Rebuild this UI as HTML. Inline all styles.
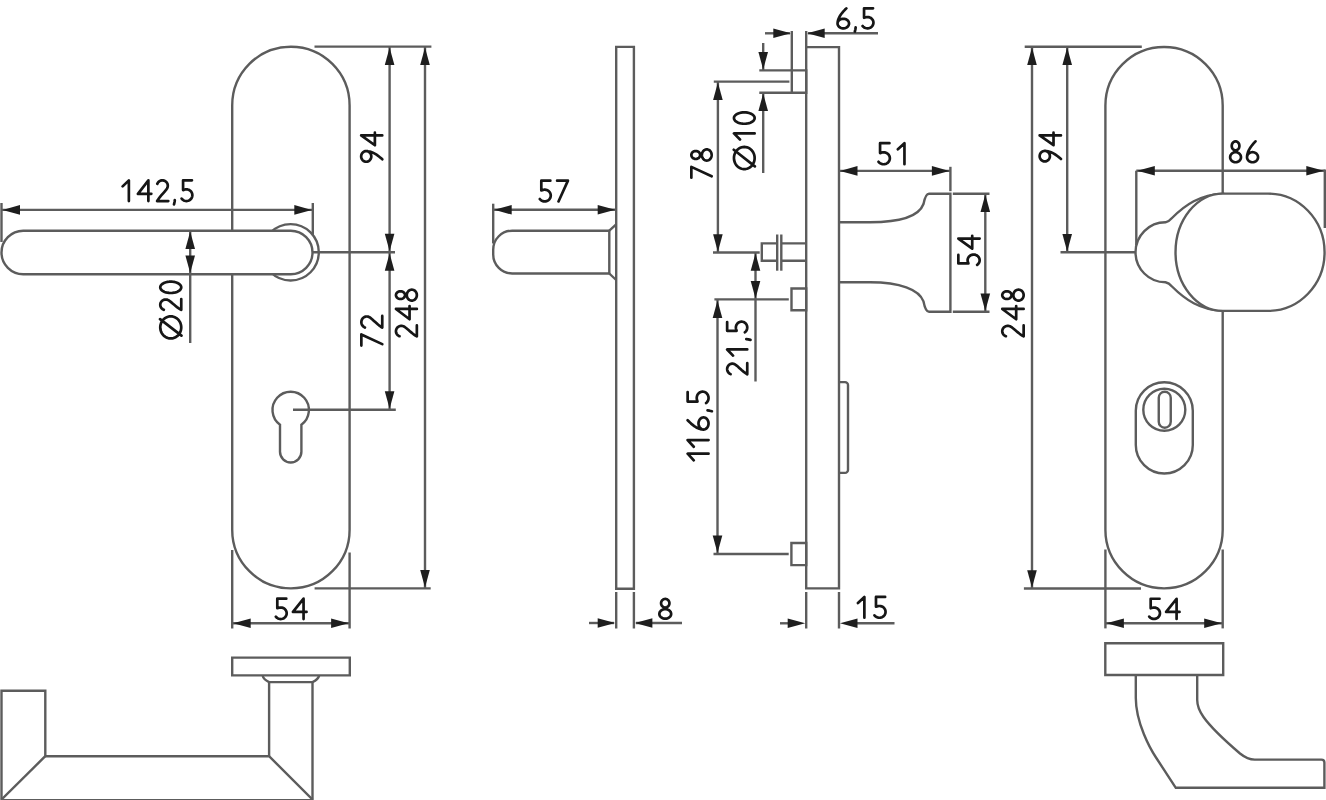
<!DOCTYPE html>
<html><head><meta charset="utf-8"><style>
html,body{margin:0;padding:0;background:#fff;width:1326px;height:800px;overflow:hidden}
svg{display:block}
svg text{font-family:"Liberation Sans",sans-serif;fill:#111;stroke:none}
.g{fill:none;stroke:#5c5c5c;stroke-width:2.40;stroke-linejoin:miter}
.a{fill:#1e1e1e;stroke:none}
.t{fill:none;stroke:#161616;stroke-width:2.70;stroke-linecap:round;stroke-linejoin:round}
</style></head><body>
<svg width="1326" height="800" viewBox="0 0 1326 800">
<g class="g">
<line x1="1.50" y1="203.00" x2="1.50" y2="242.00"/>
<line x1="312.80" y1="203.00" x2="312.80" y2="240.00"/>
<line x1="1.50" y1="209.90" x2="312.80" y2="209.90"/>
<polygon class="a" points="2.50,209.90 20.00,205.10 20.00,214.70"/>
<polygon class="a" points="311.80,209.90 294.30,205.10 294.30,214.70"/>
<path d="M232.2,105.4A58.7,58.7 0 0 1 349.6,105.4L349.6,529.7A58.7,58.7 0 0 1 232.2,529.7Z"/>
<path d="M262.40,252.30A28.2,28.2 0 1 1 318.80,252.30A28.2,28.2 0 1 1 262.40,252.30Z" fill="#fff"/>
<path d="M23.2,230.8L290.8,230.8A21.7,21.7 0 0 1 290.8,274.2L23.2,274.2A21.7,21.7 0 0 1 23.2,230.8Z" fill="#fff"/>
<path d="M280,424.7A18.2,18.2 0 1 1 301.4,424.7L301.4,451.8A10.7,10.7 0 0 1 280,451.8Z"/>
<line x1="312.80" y1="252.30" x2="395.00" y2="252.30"/>
<line x1="293.00" y1="409.80" x2="395.80" y2="409.80"/>
<line x1="314.50" y1="46.60" x2="431.40" y2="46.60"/>
<line x1="314.60" y1="588.40" x2="430.70" y2="588.40"/>
<line x1="389.60" y1="46.60" x2="389.60" y2="409.80"/>
<polygon class="a" points="389.60,47.60 384.80,65.10 394.40,65.10"/>
<polygon class="a" points="389.60,251.30 384.80,233.80 394.40,233.80"/>
<polygon class="a" points="389.60,253.30 384.80,270.80 394.40,270.80"/>
<polygon class="a" points="389.60,408.80 384.80,391.30 394.40,391.30"/>
<line x1="425.00" y1="46.60" x2="425.00" y2="588.40"/>
<polygon class="a" points="425.00,47.60 420.20,65.10 429.80,65.10"/>
<polygon class="a" points="425.00,587.40 420.20,569.90 429.80,569.90"/>
<line x1="190.20" y1="230.30" x2="190.20" y2="343.00"/>
<polygon class="a" points="190.20,231.50 185.40,249.00 195.00,249.00"/>
<polygon class="a" points="190.20,273.10 185.40,255.60 195.00,255.60"/>
<line x1="232.20" y1="550.00" x2="232.20" y2="628.50"/>
<line x1="349.60" y1="552.50" x2="349.60" y2="628.50"/>
<line x1="232.20" y1="623.20" x2="349.60" y2="623.20"/>
<polygon class="a" points="233.20,623.20 250.70,618.40 250.70,628.00"/>
<polygon class="a" points="348.60,623.20 331.10,618.40 331.10,628.00"/>
<path d="M616.20,46.90H633.90V588.70H616.20Z"/>
<path d="M609.3,230.7L512.2,230.7A19,19 0 0 0 493.2,249.7L493.2,254.5A19,19 0 0 0 512.2,273.5L609.3,273.5Z"/>
<path d="M609.3,230.7L616.2,224.3"/>
<path d="M609.3,273.5L616.2,280"/>
<line x1="493.20" y1="203.70" x2="493.20" y2="243.50"/>
<line x1="493.20" y1="209.80" x2="616.20" y2="209.80"/>
<polygon class="a" points="494.20,209.80 511.70,205.00 511.70,214.60"/>
<polygon class="a" points="615.20,209.80 597.70,205.00 597.70,214.60"/>
<line x1="616.20" y1="592.00" x2="616.20" y2="628.50"/>
<line x1="633.90" y1="592.00" x2="633.90" y2="628.50"/>
<line x1="589.00" y1="623.00" x2="614.00" y2="623.00"/>
<polygon class="a" points="615.20,623.00 597.70,618.20 597.70,627.80"/>
<line x1="636.00" y1="623.00" x2="682.00" y2="623.00"/>
<polygon class="a" points="634.90,623.00 652.40,618.20 652.40,627.80"/>
<path d="M806.20,47.10H839.00V588.40H806.20Z"/>
<path d="M791.80,70.40H806.20V92.80H791.80Z"/>
<line x1="791.80" y1="31.00" x2="791.80" y2="70.40"/>
<line x1="806.20" y1="31.00" x2="806.20" y2="47.10"/>
<line x1="765.00" y1="33.30" x2="790.00" y2="33.30"/>
<polygon class="a" points="790.80,33.30 773.30,28.50 773.30,38.10"/>
<line x1="808.00" y1="33.30" x2="878.00" y2="33.30"/>
<polygon class="a" points="807.20,33.30 824.70,28.50 824.70,38.10"/>
<line x1="759.30" y1="70.40" x2="791.80" y2="70.40"/>
<line x1="759.30" y1="92.80" x2="791.80" y2="92.80"/>
<line x1="763.20" y1="43.00" x2="763.20" y2="70.40"/>
<polygon class="a" points="763.20,69.60 758.40,52.10 768.00,52.10"/>
<line x1="763.20" y1="92.80" x2="763.20" y2="173.00"/>
<polygon class="a" points="763.20,93.60 758.40,111.10 768.00,111.10"/>
<line x1="713.80" y1="81.60" x2="789.40" y2="81.60"/>
<line x1="713.00" y1="252.50" x2="759.70" y2="252.50"/>
<line x1="717.90" y1="81.60" x2="717.90" y2="252.50"/>
<polygon class="a" points="717.90,82.40 713.10,99.90 722.70,99.90"/>
<polygon class="a" points="717.90,251.70 713.10,234.20 722.70,234.20"/>
<path d="M777.2,243.4H761.8V260.8H777.2M781.3,243.4H806.2M781.3,260.8H806.2"/>
<line x1="777.20" y1="234.50" x2="777.20" y2="270.70"/>
<line x1="781.30" y1="234.50" x2="781.30" y2="270.70"/>
<line x1="755.50" y1="252.50" x2="755.50" y2="381.50"/>
<polygon class="a" points="755.50,253.30 750.70,270.80 760.30,270.80"/>
<polygon class="a" points="755.50,298.60 750.70,281.10 760.30,281.10"/>
<path d="M791.50,288.50H806.20V310.20H791.50Z"/>
<line x1="714.40" y1="299.40" x2="788.80" y2="299.40"/>
<path d="M791.40,543.00H806.20V565.10H791.40Z"/>
<line x1="713.50" y1="554.00" x2="788.70" y2="554.00"/>
<line x1="717.50" y1="299.40" x2="717.50" y2="554.00"/>
<polygon class="a" points="717.50,300.40 712.70,317.90 722.30,317.90"/>
<polygon class="a" points="717.50,553.00 712.70,535.50 722.30,535.50"/>
<path d="M839,382.1H845A3,3 0 0 1 848,385.1V469.9A3,3 0 0 1 845,472.9H839"/>
<path d="M839,222.2L870,222.2C900,222.2 919,216 923.5,204Q925.5,193.7 929,193.7L950.4,193.7L950.4,311.7L929,311.7Q925.5,311.7 923.5,301.4C919,289.4 900,282.3 870,282.3L839,282.3"/>
<line x1="950.40" y1="166.80" x2="950.40" y2="191.20"/>
<line x1="839.00" y1="170.90" x2="950.40" y2="170.90"/>
<polygon class="a" points="840.00,170.90 857.50,166.10 857.50,175.70"/>
<polygon class="a" points="949.40,170.90 931.90,166.10 931.90,175.70"/>
<line x1="952.80" y1="193.70" x2="989.50" y2="193.70"/>
<line x1="952.80" y1="311.70" x2="989.50" y2="311.70"/>
<line x1="985.30" y1="193.70" x2="985.30" y2="311.70"/>
<polygon class="a" points="985.30,194.50 980.50,212.00 990.10,212.00"/>
<polygon class="a" points="985.30,310.90 980.50,293.40 990.10,293.40"/>
<line x1="806.20" y1="592.00" x2="806.20" y2="628.50"/>
<line x1="839.00" y1="592.00" x2="839.00" y2="628.50"/>
<line x1="780.00" y1="623.30" x2="790.00" y2="623.30"/>
<polygon class="a" points="805.20,623.30 787.70,618.50 787.70,628.10"/>
<line x1="856.00" y1="623.30" x2="894.50" y2="623.30"/>
<polygon class="a" points="840.00,623.30 857.50,618.50 857.50,628.10"/>
<line x1="1024.70" y1="46.80" x2="1141.80" y2="46.80"/>
<line x1="1023.90" y1="588.50" x2="1141.00" y2="588.50"/>
<line x1="1032.00" y1="46.80" x2="1032.00" y2="588.50"/>
<polygon class="a" points="1032.00,47.60 1027.20,65.10 1036.80,65.10"/>
<polygon class="a" points="1032.00,587.70 1027.20,570.20 1036.80,570.20"/>
<line x1="1067.20" y1="46.80" x2="1067.20" y2="252.20"/>
<polygon class="a" points="1067.20,47.60 1062.40,65.10 1072.00,65.10"/>
<polygon class="a" points="1067.20,251.40 1062.40,233.90 1072.00,233.90"/>
<line x1="1060.50" y1="252.20" x2="1136.00" y2="252.20"/>
<line x1="1136.30" y1="170.70" x2="1136.30" y2="245.00"/>
<line x1="1324.80" y1="169.50" x2="1324.80" y2="228.00"/>
<line x1="1136.30" y1="170.70" x2="1324.80" y2="170.70"/>
<polygon class="a" points="1137.30,170.70 1154.80,165.90 1154.80,175.50"/>
<polygon class="a" points="1323.80,170.70 1306.30,165.90 1306.30,175.50"/>
<path d="M1105.4,105.5A58.65,58.65 0 0 1 1222.7,105.5L1222.7,529.8A58.65,58.65 0 0 1 1105.4,529.8Z"/>
<path d="M1223,193.6C1200,194.5 1185,205 1172,218Q1169,221.5 1165.5,222.3A30,30 0 0 0 1165.5,282.3Q1169,283 1172,286.5C1185,299.5 1200,310 1223,310.9Z" fill="#fff"/>
<path d="M1223,193.6L1268,193.6A56.6,58.65 0 0 1 1268,310.9L1223,310.9A47.5,58.65 0 0 1 1223,193.6Z" fill="#fff"/>
<path d="M1135.8,410.8A28.5,28.5 0 0 1 1192.8,410.8L1192.8,445A28.5,28.5 0 0 1 1135.8,445Z"/>
<path d="M1143.3,409.75A21,21 0 1 1 1185.3,409.75A21,21 0 1 1 1143.3,409.75Z"/>
<path d="M1158.75,397.75A6,6 0 0 1 1170.75,397.75L1170.75,421.75A6,6 0 0 1 1158.75,421.75Z"/>
<line x1="1105.40" y1="549.50" x2="1105.40" y2="628.40"/>
<line x1="1222.70" y1="549.50" x2="1222.70" y2="628.40"/>
<line x1="1105.40" y1="623.20" x2="1222.70" y2="623.20"/>
<polygon class="a" points="1106.40,623.20 1123.90,618.40 1123.90,628.00"/>
<polygon class="a" points="1221.70,623.20 1204.20,618.40 1204.20,628.00"/>
<path d="M232.20,657.60H349.80V675.40H232.20Z"/>
<path d="M262.6,675.4Q263.4,679.6 269.1,682.1L312.5,682.1Q318.2,679.6 319.2,675.4"/>
<line x1="269.10" y1="682.10" x2="269.10" y2="756.20"/>
<line x1="312.50" y1="682.10" x2="312.50" y2="800.00"/>
<path d="M1.5,800V690.8H45.3V756.2H269.1L312.5,799.5"/>
<line x1="45.30" y1="756.20" x2="1.50" y2="799.50"/>
<line x1="1.50" y1="800.30" x2="312.60" y2="800.30"/>
<path d="M1105.30,643.20H1223.20V675.00H1105.30Z"/>
<path d="M1135.8,675L1135.8,698C1135.8,723 1150.5,749.2 1156,757.5L1175.8,787.8L1324.4,787.8L1324.4,762.6Q1324.4,759.6 1321.4,759.6L1254.7,759.6C1249,759.6 1245,757.5 1240,753.5C1226,741.5 1212,729 1203.5,717Q1197.2,708 1197.2,700L1197.2,675"/>
</g>
<g class="t">
<path d="M122.65,186.40L128.86,180.35L128.86,201.05M148.38,201.05L148.38,180.35L137.93,193.82L151.34,193.82M157.29,183.88L157.62,183.15L158.07,182.47L158.61,181.86L159.24,181.35L159.93,180.93L160.69,180.62L161.48,180.42L162.30,180.35L163.11,180.40L163.91,180.57L164.67,180.85L165.38,181.25L166.03,181.75L166.59,182.33L167.06,183.00L167.42,183.72L167.66,184.50L167.79,185.29L167.79,186.10L167.67,186.90L167.43,187.68L167.08,188.41L166.45,189.35L165.62,190.42L164.64,191.57L163.55,192.81L162.39,194.12L161.22,195.47L160.06,196.85L158.97,198.26L157.99,199.66L157.16,201.05L168.30,201.05M174.80,200.07L174.56,202.03L174.01,204.37M191.96,180.35L183.08,180.35L183.08,190.11L184.01,189.85L184.87,189.54L185.77,189.37L186.69,189.34L187.60,189.45L188.48,189.70L189.32,190.08L190.08,190.58L190.76,191.19L191.33,191.91L191.79,192.70L192.11,193.55L192.30,194.44L192.35,195.35L192.25,196.25L192.02,197.13L191.65,197.96L191.15,198.73L190.54,199.41L189.83,199.99L189.04,200.45L188.19,200.79L187.29,200.99L186.38,201.05L185.46,200.97L184.57,200.75L183.73,200.40L182.94,199.92L182.25,199.33L181.65,198.64M382.25,159.25L381.22,158.35L380.14,157.43L378.99,156.50L377.79,155.59L376.52,154.71L375.21,153.88L373.84,153.13L372.42,152.47L370.94,151.91L369.42,151.48L367.85,151.21L366.23,151.09L367.11,151.17L367.96,151.41L368.76,151.81L369.49,152.34L370.11,153.00L370.62,153.76L371.00,154.60L371.22,155.50L371.30,156.42L371.22,157.35L371.00,158.24L370.62,159.09L370.11,159.85L369.49,160.50L368.76,161.04L367.96,161.43L367.11,161.67L366.23,161.75L365.34,161.67L364.49,161.43L363.69,161.04L362.96,160.50L362.34,159.85L361.83,159.09L361.46,158.24L361.23,157.35L361.15,156.42L361.23,155.50L361.46,154.60L361.83,153.76L362.34,153.00L362.96,152.34L363.69,151.81L364.49,151.41L365.34,151.17L366.23,151.09M382.25,135.43L361.15,135.43L374.88,145.25L374.88,132.65M361.35,345.55L361.35,334.41L382.25,344.11M364.92,327.47L364.17,327.12L363.49,326.65L362.88,326.09L362.36,325.43L361.93,324.70L361.62,323.91L361.43,323.08L361.35,322.23L361.40,321.38L361.57,320.54L361.86,319.74L362.26,319.00L362.76,318.32L363.35,317.74L364.02,317.25L364.76,316.87L365.54,316.62L366.34,316.48L367.16,316.48L367.97,316.61L368.75,316.86L369.48,317.23L370.44,317.89L371.51,318.75L372.68,319.78L373.93,320.92L375.25,322.12L376.62,323.36L378.01,324.57L379.43,325.71L380.85,326.74L382.25,327.60L382.25,315.95M399.52,336.22L398.77,335.89L398.09,335.45L397.48,334.92L396.96,334.30L396.53,333.61L396.22,332.87L396.03,332.09L395.95,331.29L396.00,330.49L396.17,329.70L396.46,328.95L396.86,328.25L397.36,327.61L397.95,327.06L398.62,326.60L399.36,326.25L400.14,326.01L400.94,325.88L401.76,325.88L402.57,326.00L403.35,326.23L404.08,326.58L405.04,327.20L406.11,328.02L407.28,328.98L408.53,330.05L409.85,331.19L411.22,332.35L412.61,333.49L414.03,334.56L415.45,335.53L416.85,336.35L416.85,325.38M416.85,308.97L395.95,308.97L409.55,319.26L409.55,306.06M405.02,295.14L404.93,295.89L404.67,296.62L404.26,297.29L403.69,297.88L403.00,298.36L402.22,298.72L401.37,298.94L400.48,299.02L399.60,298.94L398.75,298.72L397.97,298.36L397.28,297.88L396.71,297.29L396.30,296.62L396.04,295.89L395.95,295.14L396.04,294.38L396.30,293.65L396.71,292.98L397.28,292.39L397.97,291.91L398.75,291.55L399.60,291.33L400.48,291.25L401.37,291.33L402.22,291.55L403.00,291.91L403.69,292.39L404.26,292.98L404.67,293.65L404.93,294.38L405.02,295.14M406.79,295.14L406.87,294.18L407.10,293.26L407.47,292.39L407.97,291.61L408.59,290.93L409.31,290.38L410.10,289.98L410.95,289.73L411.82,289.65L412.70,289.73L413.54,289.98L414.34,290.38L415.05,290.93L415.67,291.61L416.18,292.39L416.55,293.26L416.77,294.18L416.85,295.14L416.77,296.09L416.55,297.01L416.18,297.88L415.67,298.66L415.05,299.34L414.34,299.89L413.54,300.29L412.70,300.54L411.82,300.62L410.95,300.54L410.10,300.29L409.31,299.89L408.59,299.34L407.97,298.66L407.47,297.88L407.10,297.01L406.87,296.09L406.79,295.14M170.75,316.35L172.12,316.44L173.47,316.72L174.77,317.19L176.00,317.83L177.14,318.63L178.17,319.58L179.08,320.67L179.84,321.87L180.45,323.17L180.89,324.54L181.16,325.95L181.25,327.40L181.16,328.84L180.89,330.26L180.45,331.63L179.84,332.92L179.08,334.13L178.17,335.21L177.14,336.17L176.00,336.97L174.77,337.61L173.47,338.07L172.12,338.36L170.75,338.45L169.38,338.36L168.03,338.07L166.73,337.61L165.50,336.97L164.36,336.17L163.33,335.21L162.42,334.13L161.66,332.92L161.05,331.63L160.61,330.26L160.34,328.84L160.25,327.40L160.34,325.95L160.61,324.54L161.05,323.17L161.66,321.87L162.42,320.67L163.33,319.58L164.36,318.63L165.50,317.83L166.73,317.19L168.03,316.72L169.38,316.44L170.75,316.35M160.05,319.13L181.45,335.66M163.83,309.78L163.09,309.45L162.40,309.02L161.79,308.49L161.26,307.88L160.84,307.20L160.52,306.46L160.33,305.69L160.25,304.90L160.30,304.10L160.47,303.32L160.76,302.58L161.16,301.88L161.67,301.26L162.26,300.71L162.94,300.26L163.67,299.90L164.46,299.67L165.27,299.54L166.09,299.54L166.90,299.66L167.68,299.89L168.42,300.23L169.39,300.85L170.46,301.66L171.64,302.61L172.89,303.67L174.22,304.80L175.59,305.95L176.99,307.08L178.42,308.14L179.84,309.10L181.25,309.91L181.25,299.05M170.75,281.65L172.39,281.72L173.99,281.93L175.52,282.27L176.92,282.73L178.17,283.31L179.24,283.99L180.11,284.75L180.74,285.57L181.12,286.43L181.25,287.32L181.12,288.21L180.74,289.07L180.11,289.89L179.24,290.65L178.17,291.33L176.92,291.91L175.52,292.37L173.99,292.71L172.39,292.92L170.75,292.99L169.11,292.92L167.51,292.71L165.98,292.37L164.58,291.91L163.33,291.33L162.26,290.65L161.39,289.89L160.76,289.07L160.38,288.21L160.25,287.32L160.38,286.43L160.76,285.57L161.39,284.75L162.26,283.99L163.33,283.31L164.58,282.73L165.98,282.27L167.51,281.93L169.11,281.72L170.75,281.65M286.29,598.65L277.30,598.65L277.30,608.27L278.23,608.01L279.11,607.71L280.02,607.54L280.95,607.51L281.87,607.62L282.77,607.86L283.61,608.23L284.39,608.73L285.07,609.34L285.65,610.04L286.11,610.82L286.44,611.66L286.64,612.53L286.68,613.43L286.59,614.32L286.35,615.19L285.97,616.01L285.47,616.76L284.85,617.43L284.14,618.00L283.34,618.46L282.47,618.79L281.56,618.99L280.64,619.05L279.71,618.97L278.81,618.76L277.95,618.41L277.16,617.94L276.45,617.35L275.85,616.67M303.56,619.05L303.56,598.65L292.97,611.93L306.55,611.93M550.36,180.65L541.31,180.65L541.31,190.46L542.25,190.20L543.13,189.89L544.05,189.71L544.99,189.68L545.92,189.79L546.82,190.04L547.67,190.42L548.45,190.93L549.14,191.55L549.72,192.26L550.19,193.06L550.52,193.91L550.71,194.80L550.76,195.72L550.66,196.63L550.42,197.51L550.04,198.35L549.54,199.12L548.92,199.80L548.19,200.38L547.39,200.85L546.52,201.19L545.60,201.39L544.67,201.45L543.74,201.37L542.83,201.15L541.96,200.80L541.17,200.31L540.46,199.72L539.85,199.02M557.09,180.65L567.95,180.65L558.50,201.45M665.25,607.50L664.44,607.42L663.65,607.17L662.93,606.78L662.30,606.25L661.78,605.60L661.39,604.86L661.15,604.06L661.07,603.22L661.15,602.39L661.39,601.59L661.78,600.85L662.30,600.20L662.93,599.67L663.65,599.28L664.44,599.03L665.25,598.95L666.06,599.03L666.85,599.28L667.57,599.67L668.20,600.20L668.72,600.85L669.11,601.59L669.35,602.39L669.43,603.22L669.35,604.06L669.11,604.86L668.72,605.60L668.20,606.25L667.57,606.78L666.85,607.17L666.06,607.42L665.25,607.50M665.25,609.17L666.27,609.24L667.27,609.46L668.20,609.81L669.04,610.28L669.77,610.86L670.36,611.54L670.79,612.29L671.06,613.09L671.15,613.91L671.06,614.73L670.79,615.53L670.36,616.28L669.77,616.96L669.04,617.54L668.20,618.02L667.27,618.36L666.27,618.58L665.25,618.65L664.23,618.58L663.23,618.36L662.30,618.02L661.46,617.54L660.73,616.96L660.14,616.28L659.71,615.53L659.44,614.73L659.35,613.91L659.44,613.09L659.71,612.29L660.14,611.54L660.73,610.86L661.46,610.28L662.30,609.81L663.23,609.46L664.23,609.24L665.25,609.17M846.35,8.35L845.38,9.32L844.39,10.35L843.39,11.44L842.40,12.58L841.45,13.78L840.56,15.02L839.75,16.32L839.03,17.67L838.43,19.07L837.97,20.51L837.67,22.00L837.55,23.54L837.64,22.70L837.90,21.89L838.32,21.13L838.90,20.45L839.60,19.85L840.43,19.37L841.33,19.02L842.30,18.80L843.30,18.73L844.30,18.80L845.27,19.02L846.18,19.37L847.00,19.85L847.71,20.45L848.28,21.13L848.70,21.89L848.96,22.70L849.05,23.54L848.96,24.37L848.70,25.18L848.28,25.94L847.71,26.63L847.00,27.22L846.18,27.71L845.27,28.06L844.30,28.28L843.30,28.35L842.30,28.28L841.33,28.06L840.43,27.71L839.60,27.22L838.90,26.63L838.32,25.94L837.90,25.18L837.64,24.37L837.55,23.54M855.65,27.41L855.40,29.29L854.85,31.56M873.05,8.35L864.05,8.35L864.05,17.78L864.99,17.53L865.86,17.23L866.78,17.07L867.71,17.03L868.63,17.14L869.53,17.38L870.38,17.75L871.15,18.23L871.84,18.83L872.42,19.51L872.88,20.28L873.21,21.10L873.40,21.96L873.45,22.84L873.35,23.71L873.11,24.56L872.74,25.37L872.24,26.11L871.62,26.76L870.90,27.32L870.10,27.77L869.23,28.10L868.32,28.29L867.39,28.35L866.46,28.27L865.56,28.06L864.70,27.72L863.91,27.26L863.20,26.69L862.60,26.02M744.30,146.93L745.65,147.03L746.98,147.31L748.26,147.78L749.48,148.42L750.60,149.23L751.62,150.19L752.51,151.28L753.26,152.49L753.86,153.79L754.30,155.17L754.56,156.59L754.65,158.04L754.56,159.49L754.30,160.92L753.86,162.29L753.26,163.60L752.51,164.80L751.62,165.90L750.60,166.85L749.48,167.66L748.26,168.30L746.98,168.77L745.65,169.05L744.30,169.15L742.95,169.05L741.62,168.77L740.34,168.30L739.12,167.66L738.00,166.85L736.98,165.90L736.09,164.80L735.34,163.60L734.74,162.29L734.30,160.92L734.04,159.49L733.95,158.04L734.04,156.59L734.30,155.17L734.74,153.79L735.34,152.49L736.09,151.28L736.98,150.19L738.00,149.23L739.12,148.42L740.34,147.78L741.62,147.31L742.95,147.03L744.30,146.93M733.75,149.73L754.85,166.35M740.00,139.49L733.95,133.41L754.65,133.41M744.30,112.35L745.92,112.42L747.50,112.63L749.00,112.97L750.38,113.44L751.62,114.02L752.67,114.70L753.52,115.46L754.14,116.29L754.52,117.16L754.65,118.05L754.52,118.94L754.14,119.81L753.52,120.64L752.67,121.40L751.62,122.08L750.38,122.66L749.00,123.13L747.50,123.47L745.92,123.68L744.30,123.75L742.68,123.68L741.10,123.47L739.60,123.13L738.22,122.66L736.98,122.08L735.93,121.40L735.08,120.64L734.46,119.81L734.08,118.94L733.95,118.05L734.08,117.16L734.46,116.29L735.08,115.46L735.93,114.70L736.98,114.02L738.22,113.44L739.60,112.97L741.10,112.63L742.68,112.42L744.30,112.35M691.35,177.65L691.35,166.89L711.65,176.25M700.16,154.98L700.07,155.76L699.82,156.51L699.42,157.19L698.87,157.80L698.20,158.29L697.44,158.66L696.61,158.89L695.75,158.97L694.90,158.89L694.07,158.66L693.31,158.29L692.64,157.80L692.09,157.19L691.69,156.51L691.43,155.76L691.35,154.98L691.43,154.20L691.69,153.45L692.09,152.77L692.64,152.16L693.31,151.67L694.07,151.30L694.90,151.07L695.75,150.99L696.61,151.07L697.44,151.30L698.20,151.67L698.87,152.16L699.42,152.77L699.82,153.45L700.07,154.20L700.16,154.98M701.88,154.98L701.96,154.00L702.18,153.05L702.54,152.17L703.03,151.36L703.63,150.67L704.32,150.10L705.10,149.69L705.92,149.44L706.77,149.35L707.61,149.44L708.44,149.69L709.21,150.10L709.91,150.67L710.51,151.36L711.00,152.17L711.36,153.05L711.58,154.00L711.65,154.98L711.58,155.96L711.36,156.91L711.00,157.80L710.51,158.60L709.91,159.29L709.21,159.86L708.44,160.27L707.61,160.52L706.77,160.61L705.92,160.52L705.10,160.27L704.32,159.86L703.63,159.29L703.03,158.60L702.54,157.80L702.18,156.91L701.96,155.96L701.88,154.98M730.58,374.12L729.87,373.79L729.21,373.35L728.62,372.81L728.12,372.18L727.71,371.49L727.41,370.74L727.22,369.95L727.15,369.14L727.20,368.33L727.36,367.54L727.64,366.78L728.02,366.07L728.51,365.43L729.08,364.88L729.72,364.41L730.43,364.06L731.18,363.81L731.95,363.69L732.74,363.68L733.51,363.80L734.26,364.04L734.97,364.39L735.89,365.02L736.92,365.84L738.05,366.81L739.25,367.90L740.52,369.05L741.83,370.22L743.18,371.36L744.54,372.45L745.90,373.43L747.25,374.25L747.25,363.18M733.03,355.64L727.15,349.47L747.25,349.47M746.30,339.08L748.20,339.33L750.47,339.87M727.15,322.04L727.15,330.86L736.63,330.86L736.38,329.94L736.08,329.08L735.91,328.19L735.88,327.27L735.98,326.37L736.22,325.49L736.59,324.66L737.08,323.90L737.68,323.23L738.37,322.66L739.14,322.21L739.96,321.88L740.83,321.70L741.71,321.65L742.59,321.74L743.44,321.98L744.25,322.35L745.00,322.84L745.66,323.45L746.22,324.15L746.67,324.93L746.99,325.78L747.19,326.67L747.25,327.58L747.17,328.49L746.96,329.38L746.62,330.22L746.15,331.00L745.58,331.69L744.91,332.28M693.76,460.35L687.65,453.70L708.55,453.70M693.76,446.74L687.65,440.09L708.55,440.09M687.65,420.25L688.67,421.27L689.74,422.32L690.88,423.38L692.07,424.41L693.32,425.41L694.62,426.36L695.98,427.21L697.39,427.97L698.85,428.60L700.36,429.09L701.92,429.41L703.52,429.53L702.65,429.44L701.80,429.17L701.01,428.72L700.29,428.11L699.67,427.37L699.17,426.50L698.80,425.54L698.57,424.52L698.49,423.47L698.57,422.41L698.80,421.39L699.17,420.43L699.67,419.57L700.29,418.82L701.01,418.21L701.80,417.76L702.65,417.49L703.52,417.40L704.40,417.49L705.24,417.76L706.04,418.21L706.75,418.82L707.37,419.57L707.88,420.43L708.25,421.39L708.47,422.41L708.55,423.47L708.47,424.52L708.25,425.54L707.88,426.50L707.37,427.37L706.75,428.11L706.04,428.72L705.24,429.17L704.40,429.44L703.52,429.53M707.56,410.43L709.54,410.70L711.90,411.28M687.65,392.07L687.65,401.57L697.51,401.57L697.24,400.58L696.93,399.66L696.76,398.69L696.73,397.71L696.84,396.73L697.09,395.79L697.47,394.89L697.98,394.08L698.60,393.35L699.32,392.74L700.12,392.25L700.97,391.90L701.87,391.70L702.79,391.65L703.70,391.75L704.59,392.00L705.43,392.40L706.21,392.93L706.89,393.58L707.48,394.34L707.94,395.19L708.28,396.10L708.49,397.06L708.55,398.04L708.47,399.02L708.25,399.98L707.89,400.88L707.41,401.72L706.81,402.46L706.11,403.10M889.44,143.15L880.07,143.15L880.07,153.10L881.04,152.83L881.95,152.52L882.90,152.34L883.88,152.31L884.84,152.42L885.77,152.68L886.66,153.06L887.46,153.58L888.18,154.20L888.78,154.93L889.27,155.73L889.61,156.60L889.81,157.51L889.86,158.44L889.76,159.36L889.51,160.25L889.12,161.10L888.59,161.88L887.95,162.58L887.20,163.17L886.36,163.64L885.46,163.98L884.52,164.19L883.55,164.25L882.58,164.17L881.64,163.95L880.74,163.59L879.92,163.10L879.18,162.49L878.55,161.79M897.88,149.32L904.45,143.15L904.45,164.25M958.35,254.96L958.35,263.47L968.40,263.47L968.13,262.59L967.81,261.76L967.63,260.90L967.60,260.01L967.71,259.14L967.97,258.29L968.36,257.49L968.88,256.76L969.51,256.11L970.24,255.56L971.05,255.12L971.93,254.81L972.85,254.63L973.78,254.58L974.71,254.67L975.62,254.90L976.47,255.25L977.26,255.73L977.96,256.32L978.56,257.00L979.03,257.75L979.38,258.57L979.59,259.43L979.65,260.31L979.57,261.19L979.34,262.05L978.98,262.86L978.49,263.61L977.88,264.28L977.17,264.85M979.65,238.59L958.35,238.59L972.22,248.62L972.22,235.75M857.95,603.03L864.37,596.95L864.37,617.75M885.14,596.95L875.98,596.95L875.98,606.76L876.93,606.50L877.82,606.19L878.75,606.01L879.70,605.98L880.64,606.09L881.56,606.34L882.42,606.72L883.21,607.23L883.91,607.85L884.50,608.56L884.97,609.36L885.31,610.21L885.50,611.10L885.55,612.02L885.45,612.93L885.21,613.81L884.83,614.65L884.31,615.42L883.68,616.10L882.95,616.68L882.13,617.15L881.25,617.49L880.33,617.69L879.38,617.75L878.44,617.67L877.51,617.45L876.64,617.10L875.83,616.61L875.11,616.02L874.50,615.32M1060.95,158.97L1059.91,158.08L1058.82,157.17L1057.66,156.25L1056.44,155.35L1055.17,154.48L1053.84,153.67L1052.46,152.92L1051.02,152.26L1049.53,151.71L1048.00,151.29L1046.41,151.01L1044.77,150.90L1045.66,150.98L1046.53,151.22L1047.34,151.61L1048.07,152.14L1048.70,152.79L1049.21,153.54L1049.59,154.37L1049.82,155.26L1049.90,156.18L1049.82,157.09L1049.59,157.98L1049.21,158.81L1048.70,159.57L1048.07,160.22L1047.34,160.74L1046.53,161.13L1045.66,161.37L1044.77,161.45L1043.88,161.37L1043.02,161.13L1042.21,160.74L1041.48,160.22L1040.85,159.57L1040.34,158.81L1039.96,157.98L1039.73,157.09L1039.65,156.18L1039.73,155.26L1039.96,154.37L1040.34,153.54L1040.85,152.79L1041.48,152.14L1042.21,151.61L1043.02,151.22L1043.88,150.98L1044.77,150.90M1060.95,135.40L1039.65,135.40L1053.52,145.12L1053.52,132.65M1005.90,336.22L1005.14,335.89L1004.44,335.45L1003.81,334.92L1003.28,334.30L1002.85,333.61L1002.53,332.87L1002.33,332.09L1002.25,331.29L1002.30,330.49L1002.47,329.70L1002.77,328.95L1003.18,328.25L1003.69,327.61L1004.30,327.06L1004.99,326.60L1005.74,326.25L1006.54,326.01L1007.36,325.88L1008.20,325.88L1009.03,326.00L1009.82,326.23L1010.58,326.58L1011.56,327.20L1012.66,328.02L1013.85,328.98L1015.13,330.05L1016.48,331.19L1017.88,332.35L1019.31,333.49L1020.76,334.56L1022.21,335.53L1023.65,336.35L1023.65,325.38M1023.65,308.97L1002.25,308.97L1016.18,319.26L1016.18,306.06M1011.54,295.14L1011.45,295.89L1011.18,296.62L1010.75,297.29L1010.18,297.88L1009.47,298.36L1008.67,298.72L1007.80,298.94L1006.89,299.02L1005.99,298.94L1005.12,298.72L1004.31,298.36L1003.61,297.88L1003.03,297.29L1002.60,296.62L1002.34,295.89L1002.25,295.14L1002.34,294.38L1002.60,293.65L1003.03,292.98L1003.61,292.39L1004.31,291.91L1005.12,291.55L1005.99,291.33L1006.89,291.25L1007.80,291.33L1008.67,291.55L1009.47,291.91L1010.18,292.39L1010.75,292.98L1011.18,293.65L1011.45,294.38L1011.54,295.14M1013.35,295.14L1013.43,294.18L1013.66,293.26L1014.04,292.39L1014.56,291.61L1015.19,290.93L1015.93,290.38L1016.74,289.98L1017.61,289.73L1018.50,289.65L1019.40,289.73L1020.26,289.98L1021.08,290.38L1021.81,290.93L1022.45,291.61L1022.96,292.39L1023.34,293.26L1023.57,294.18L1023.65,295.14L1023.57,296.09L1023.34,297.01L1022.96,297.88L1022.45,298.66L1021.81,299.34L1021.08,299.89L1020.26,300.29L1019.40,300.54L1018.50,300.62L1017.61,300.54L1016.74,300.29L1015.93,299.89L1015.19,299.34L1014.56,298.66L1014.04,297.88L1013.66,297.01L1013.43,296.09L1013.35,295.14M1235.57,150.42L1234.82,150.33L1234.10,150.07L1233.44,149.66L1232.86,149.09L1232.38,148.40L1232.02,147.62L1231.81,146.77L1231.73,145.88L1231.81,145.00L1232.02,144.15L1232.38,143.37L1232.86,142.68L1233.44,142.11L1234.10,141.70L1234.82,141.44L1235.57,141.35L1236.32,141.44L1237.03,141.70L1237.70,142.11L1238.28,142.68L1238.76,143.37L1239.11,144.15L1239.33,145.00L1239.40,145.88L1239.33,146.77L1239.11,147.62L1238.76,148.40L1238.28,149.09L1237.70,149.66L1237.03,150.07L1236.32,150.33L1235.57,150.42M1235.57,152.19L1236.51,152.27L1237.42,152.50L1238.28,152.87L1239.05,153.37L1239.72,153.99L1240.26,154.71L1240.66,155.50L1240.90,156.35L1240.98,157.22L1240.90,158.10L1240.66,158.94L1240.26,159.74L1239.72,160.45L1239.05,161.07L1238.28,161.58L1237.42,161.95L1236.51,162.17L1235.57,162.25L1234.63,162.17L1233.71,161.95L1232.86,161.58L1232.09,161.07L1231.42,160.45L1230.88,159.74L1230.48,158.94L1230.23,158.10L1230.15,157.22L1230.23,156.35L1230.48,155.50L1230.88,154.71L1231.42,153.99L1232.09,153.37L1232.86,152.87L1233.71,152.50L1234.63,152.27L1235.57,152.19M1255.46,141.35L1254.53,142.37L1253.58,143.44L1252.62,144.58L1251.68,145.77L1250.77,147.02L1249.91,148.32L1249.13,149.68L1248.44,151.09L1247.87,152.55L1247.43,154.06L1247.14,155.62L1247.02,157.22L1247.11,156.35L1247.36,155.50L1247.76,154.71L1248.31,153.99L1248.99,153.37L1249.78,152.87L1250.65,152.50L1251.58,152.27L1252.54,152.19L1253.49,152.27L1254.42,152.50L1255.29,152.87L1256.08,153.37L1256.76,153.99L1257.31,154.71L1257.72,155.50L1257.97,156.35L1258.05,157.22L1257.97,158.10L1257.72,158.94L1257.31,159.74L1256.76,160.45L1256.08,161.07L1255.29,161.58L1254.42,161.95L1253.49,162.17L1252.54,162.25L1251.58,162.17L1250.65,161.95L1249.78,161.58L1248.99,161.07L1248.31,160.45L1247.76,159.74L1247.36,158.94L1247.11,158.10L1247.02,157.22M1159.55,598.75L1150.68,598.75L1150.68,608.28L1151.60,608.02L1152.47,607.72L1153.37,607.55L1154.28,607.52L1155.20,607.63L1156.08,607.87L1156.91,608.24L1157.68,608.73L1158.35,609.33L1158.93,610.03L1159.38,610.80L1159.71,611.63L1159.89,612.50L1159.94,613.38L1159.85,614.27L1159.61,615.12L1159.24,615.94L1158.75,616.68L1158.14,617.35L1157.43,617.91L1156.64,618.36L1155.79,618.69L1154.89,618.89L1153.97,618.95L1153.06,618.87L1152.17,618.66L1151.32,618.31L1150.54,617.85L1149.85,617.27L1149.25,616.59M1176.59,618.95L1176.59,598.75L1166.15,611.90L1179.55,611.90"/>
</g>
</svg>
</body></html>
